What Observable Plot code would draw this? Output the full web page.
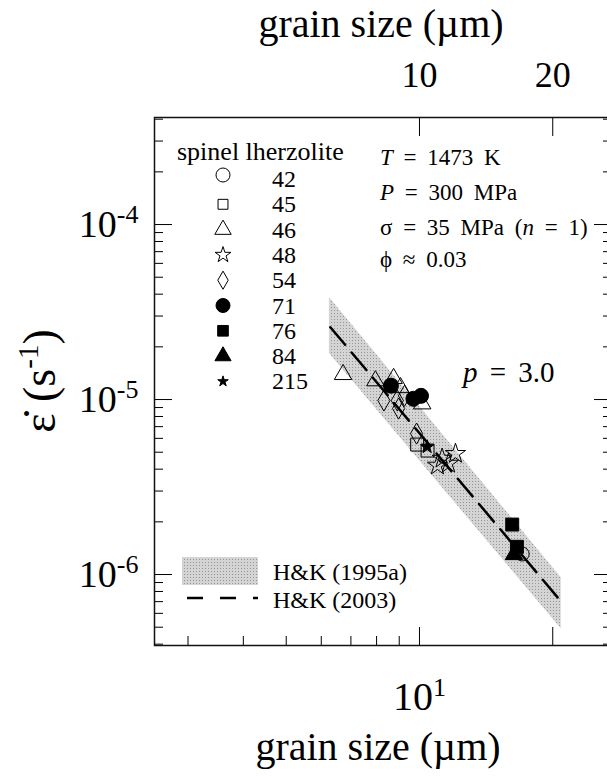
<!DOCTYPE html>
<html><head><meta charset="utf-8">
<script src="https://cdn.jsdelivr.net/npm/d3@7"></script>
<script src="https://cdn.jsdelivr.net/npm/@observablehq/plot@0.6"></script>
<style>
html,body{margin:0;padding:0;background:#fff;}
#chart{width:607px;height:777px;overflow:hidden;}
</style></head><body><div id="chart"></div>
<script>
// ---------- data ----------
const sampleIds = ["42","45","46","48","54","71","76","84","215"];
const grain42 = [17.06];               const rate42 = [1.31e-6];
const grain45 = [9.88, 10.43];         const rate45 = [5.53e-6, 5.11e-6];
const grain46 = [6.72, 7.95, 8.74, 9.06, 10.14];
const rate46  = [1.39e-5, 1.28e-5, 1.32e-5, 1.17e-5, 9.45e-6];
const grain48 = [12.06, 10.98, 11.63, 11.25];
const rate48  = [4.9e-6, 4.2e-6, 4.31e-6, 4.6e-6];
const grain54 = [8.31, 8.91, 9.25, 8.97, 9.85];
const rate54  = [9.87e-6, 9.87e-6, 1.05e-5, 8.88e-6, 6.39e-6];
const grain71 = [8.62, 9.69, 10.08];   const rate71 = [1.20e-5, 1.01e-5, 1.05e-5];
const grain76 = [16.2, 16.6];          const rate76 = [1.93e-6, 1.44e-6];
const grain84 = [16.35];               const rate84 = [1.30e-6];
const grain215 = [10.41];              const rate215 = [5.36e-6];

// H&K (1995a) band and H&K (2003) line
const bandGrain = [6.26, 20.9];
const bandLow   = [1.83e-5, 4.9e-7];
const bandHigh  = [3.83e-5, 9.6e-7];
const hk03Grain = [6.29, 20.8];
const hk03Rate  = [2.59e-5, 7.1e-7];

// axis ticks and labels
const yMajorTicks = [1e-6, 1e-5, 1e-4];
const yMajorLabels = ["10^-6", "10^-5", "10^-4"];
const xBottomMinor = [3, 4, 5, 6, 7, 8, 9];
const xMajorTicks = [10, 20];
const xBottomLabelTicks = [10];
const xBottomLabels = ["10^1"];
const xTopLabels = ["10", "20"];

// ---------- styles ----------
const symbolNames = ["circle","square","triangle","star","diamond","circle","square","triangle","star"];
const symbolFilled = [false,false,false,false,false,true,true,true,true];
const dataR   = [7, 7.3, 6.5, 6.3, 6.4, 7.5, 7.3, 6.5, 4.2];
const legendR = [7, 5.6, 6.1, 5.0, 5.5, 7, 6, 6, 3.3];

const grains = [grain42, grain45, grain46, grain48, grain54, grain71, grain76, grain84, grain215];
const rates  = [rate42, rate45, rate46, rate48, rate54, rate71, rate76, rate84, rate215];

const band = bandGrain.map((g, i) => ({g, lo: bandLow[i], hi: bandHigh[i]}));
const hk03 = hk03Grain.map((g, i) => ({g, r: hk03Rate[i]}));

// minor y ticks 2..9 x 10^k inside the domain
const yDomain = [3.93e-7, 4.09e-4];
const yMinor = [];
for (let k = -7; k <= -4; k++) for (let m = 2; m <= 9; m++) {
  const v = m * Math.pow(10, k);
  if (v > yDomain[0] && v < yDomain[1]) yMinor.push(v);
}

const FONT = "'Liberation Serif','Times New Roman',serif";

const dotMarks = sampleIds.map((id, i) =>
  Plot.dot(grains[i].map((g, j) => ({g, r: rates[i][j]})), {
    x: "g", y: "r", symbol: symbolNames[i], r: dataR[i],
    fill: symbolFilled[i] ? "black" : "none", stroke: "black", strokeWidth: 1
  })
);

const plot = Plot.plot({
  width: 607, height: 777,
  marginLeft: 154, marginRight: -4, marginTop: 117, marginBottom: 132,
  style: {fontFamily: FONT, background: "#fff", color: "#000", overflow: "hidden"},
  x: {type: "log", domain: [2.52, 27.15]},
  y: {type: "log", domain: yDomain},
  marks: [
    Plot.areaY(band, {x: "g", y1: "lo", y2: "hi", fill: "#cdcdcd"}),
    Plot.line(hk03, {x: "g", y: "r", stroke: "black", strokeWidth: 2.5, strokeDasharray: "23,10"}),
    ...dotMarks,
    // y ticks (left & right, inward)
    Plot.axisY({ticks: yMinor, anchor: "left", tickSize: -9, fill: "none", label: null, tickFormat: () => ""}),
    Plot.axisY({ticks: yMajorTicks, anchor: "left", tickSize: -18, fill: "none", label: null, tickFormat: () => ""}),
    Plot.axisY({ticks: yMinor, anchor: "right", tickSize: -9, fill: "none", label: null, tickFormat: () => ""}),
    Plot.axisY({ticks: yMajorTicks, anchor: "right", tickSize: -18, fill: "none", label: null, tickFormat: () => ""}),
    Plot.axisY({ticks: yMajorTicks, anchor: "left", tickSize: 0, tickPadding: 16, fontSize: 38, label: null,
      tickFormat: d => yMajorLabels[yMajorTicks.indexOf(d)]}),
    // x bottom
    Plot.axisX({ticks: xBottomMinor, anchor: "bottom", tickSize: -9, fill: "none", label: null, tickFormat: () => ""}),
    Plot.axisX({ticks: xMajorTicks, anchor: "bottom", tickSize: -18, fill: "none", label: null, tickFormat: () => ""}),
    Plot.axisX({ticks: xBottomLabelTicks, anchor: "bottom", tickSize: 0, tickPadding: 36, fontSize: 40, label: null,
      tickFormat: d => xBottomLabels[xBottomLabelTicks.indexOf(d)]}),
    // x top
    Plot.axisX({ticks: xMajorTicks, anchor: "top", tickSize: -18, fill: "none", label: null, tickFormat: () => ""}),
    Plot.axisX({ticks: xMajorTicks, anchor: "top", tickSize: 0, tickPadding: 31, fontSize: 36, label: null,
      tickFormat: d => xTopLabels[xMajorTicks.indexOf(d)]}),
    Plot.frame({stroke: "#111", strokeWidth: 1.5})
  ]
});

document.getElementById("chart").appendChild(plot);
const svg = d3.select(plot);

// stipple pattern for the H&K (1995a) band
const defs = svg.insert("defs", ":first-child");
const pat = defs.append("pattern").attr("id", "stip").attr("width", 3).attr("height", 3)
  .attr("patternUnits", "userSpaceOnUse");
pat.append("rect").attr("width", 3).attr("height", 3).attr("fill", "#d4d4d4");
pat.append("rect").attr("x", 1).attr("y", 1).attr("width", 1).attr("height", 1).attr("fill", "#969696");
svg.selectAll('g[aria-label="area"] path').attr("fill", "url(#stip)");

// superscripts in tick labels
svg.selectAll('g[aria-label$="tick label"] text').each(function () {
  const t = this.textContent;
  if (!t.includes("^")) return;
  const [b, e] = t.split("^");
  const s = d3.select(this);
  s.text(null);
  s.append("tspan").text(b);
  s.append("tspan").attr("dy", -14).attr("font-size", 26).text(e);
});

const g = svg.append("g").attr("font-family", FONT).attr("fill", "black").attr("text-anchor", "start");

// axis titles
g.append("text").attr("x", 381).attr("y", 37).attr("text-anchor", "middle")
  .attr("font-size", 40).text("grain size (µm)");
g.append("text").attr("x", 378).attr("y", 760).attr("text-anchor", "middle")
  .attr("font-size", 40).text("grain size (µm)");
const yt = g.append("text").attr("transform", "translate(55,381) rotate(-90)")
  .attr("text-anchor", "middle").attr("font-size", 46);
yt.append("tspan").text("ε\u0307 (s");
yt.append("tspan").attr("dy", -17).attr("font-size", 29).text("-1");
yt.append("tspan").attr("dy", 17).text(")");

// sample legend
g.append("text").attr("x", 177).attr("y", 160).attr("font-size", 26).text("spinel lherzolite");
sampleIds.forEach((id, i) => {
  const base = 187 + 25.3 * i;
  const sy = base - (i === 0 ? 12 : 8);
  const sym = d3.symbol().type({
    circle: d3.symbolCircle, square: d3.symbolSquare, triangle: d3.symbolTriangle,
    star: d3.symbolStar, diamond: d3.symbolDiamond
  }[symbolNames[i]]).size(Math.PI * legendR[i] * legendR[i]);
  g.append("path").attr("d", sym()).attr("transform", `translate(223,${sy})`)
    .attr("fill", symbolFilled[i] ? "black" : "none").attr("stroke", "black").attr("stroke-width", 1);
  g.append("text").attr("x", 272).attr("y", base).attr("font-size", 24).text(id);
});

// conditions
const cond = g.append("g").attr("font-size", 23).style("word-spacing", "5px");
let t1 = cond.append("text").attr("x", 380).attr("y", 165);
t1.append("tspan").attr("font-style", "italic").text("T");
t1.append("tspan").text(" = 1473 K");
let t2 = cond.append("text").attr("x", 380).attr("y", 200);
t2.append("tspan").attr("font-style", "italic").text("P");
t2.append("tspan").text(" = 300 MPa");
let t3 = cond.append("text").attr("x", 380).attr("y", 235);
t3.append("tspan").text("σ = 35 MPa (");
t3.append("tspan").attr("font-style", "italic").text("n");
t3.append("tspan").text(" = 1)");
cond.append("text").attr("x", 380).attr("y", 267).text("ϕ ≈ 0.03");

let tp = g.append("text").attr("x", 463).attr("y", 382).attr("font-size", 29).style("word-spacing", "5px");
tp.append("tspan").attr("font-style", "italic").text("p");
tp.append("tspan").text(" = 3.0");

// H&K legend
g.append("rect").attr("x", 182).attr("y", 557).attr("width", 76).attr("height", 28).attr("fill", "url(#stip)");
g.append("text").attr("x", 273).attr("y", 580).attr("font-size", 24).text("H&K (1995a)");
g.append("line").attr("x1", 187).attr("x2", 258).attr("y1", 598).attr("y2", 598)
  .attr("stroke", "black").attr("stroke-width", 2.5).attr("stroke-dasharray", "16,17");
g.append("text").attr("x", 273).attr("y", 608).attr("font-size", 24).text("H&K (2003)");
</script></body></html>
